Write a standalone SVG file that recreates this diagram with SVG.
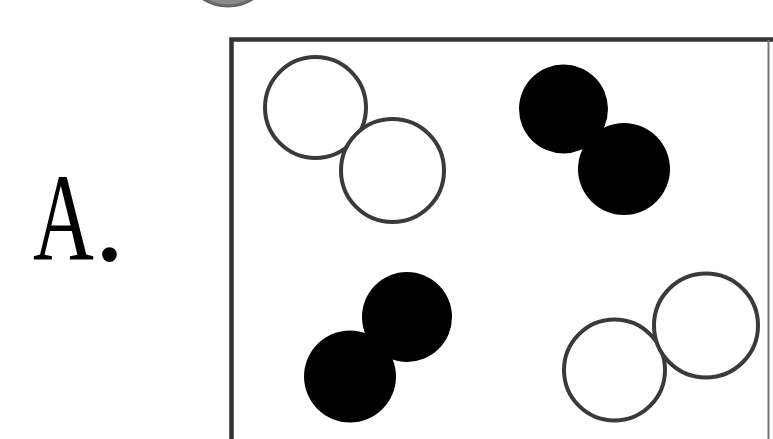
<svg xmlns="http://www.w3.org/2000/svg" width="773" height="439" viewBox="0 0 773 439">
<style>
.ring{fill:#fff;stroke:#3a3a3a;stroke-width:4}
.dot{fill:#000;stroke:none}
.lbl{font-family:"Liberation Serif","DejaVu Serif",serif;font-size:124px;fill:#000}
</style>
<rect width="773" height="439" fill="#fff"/>
<g id="top-partial">
<circle cx="228" cy="-40" r="46" fill="#8a8a8a" stroke="#666" stroke-width="3"/>
</g>
<g id="label">
<text class="lbl" transform="translate(33 260) scale(0.68 1)" x="0" y="0">A</text>
<text class="lbl" x="94" y="260">.</text>
</g>
<g id="frame">
<path d="M231.5 445 V39.5 H780" fill="none" stroke="#333" stroke-width="4.5"/>
<line x1="768.5" y1="40" x2="768.5" y2="445" stroke="#777" stroke-width="2"/>
</g>
<g id="pair-white-top">
<circle class="ring" cx="315.5" cy="107.5" r="50.5"/>
<circle class="ring" cx="392.5" cy="170.5" r="51.5"/>
</g>
<g id="pair-black-top">
<circle class="dot" cx="563.5" cy="109" r="44.5"/>
<circle class="dot" cx="624" cy="169" r="46"/>
</g>
<g id="pair-black-bottom">
<circle class="dot" cx="407" cy="317" r="45"/>
<circle class="dot" cx="350" cy="376.5" r="46"/>
</g>
<g id="pair-white-bottom">
<circle class="ring" cx="614.5" cy="370" r="50.5"/>
<circle class="ring" cx="706" cy="325.5" r="52"/>
</g>
<g id="connectors"></g>
</svg>
